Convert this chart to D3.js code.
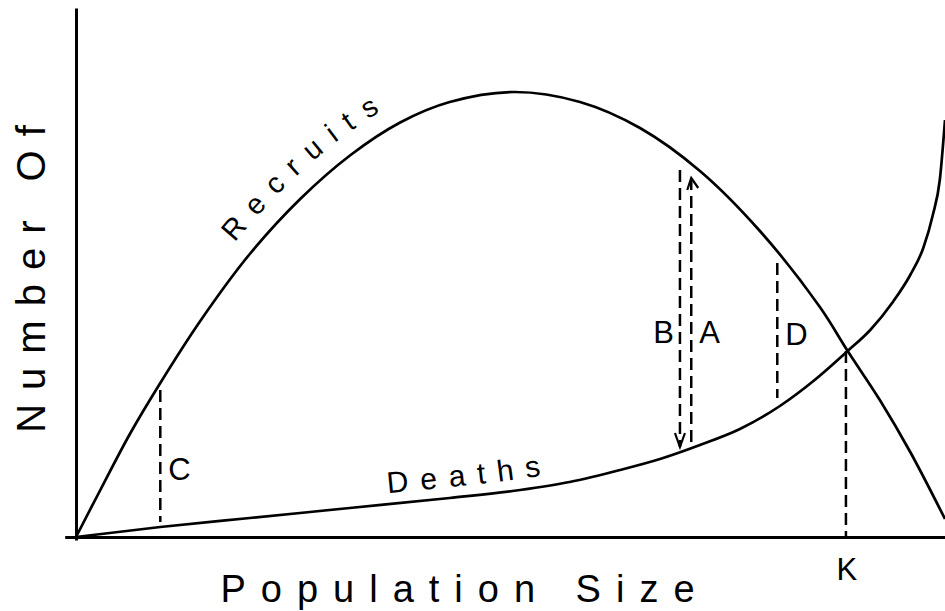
<!DOCTYPE html>
<html>
<head>
<meta charset="utf-8">
<script src="https://cdn.jsdelivr.net/npm/d3@7"></script>
<style>
  html, body { margin: 0; padding: 0; background: #fff; }
  svg { display: block; font-family: "Liberation Sans", Arial, Helvetica, sans-serif; }
</style>
</head>
<body>
<script>
// population size (0-100) vs number of individuals (0-100)
const recruitsX = [0, 2.8, 6.2, 9.7, 14.3, 20.0, 25.8, 31.6, 37.3, 43.0, 50.5, 58.0, 64.9, 71.8, 78.7, 85.6, 88.8, 92.5, 96.0, 100];
const recruitsY = [0, 9.4, 20.6, 30.8, 43.2, 56.6, 67.6, 76.4, 82.9, 87.0, 89.0, 87.0, 81.8, 73.2, 61.2, 46.0, 37.2, 27.4, 17.0, 3.6];

const deathsX = [0, 9.7, 20.0, 31.5, 43.0, 51.1, 56.8, 62.6, 67.2, 71.8, 76.4, 81.0, 85.0, 88.8, 91.4, 94.0, 96.0, 97.5, 98.6, 99.4, 100];
const deathsY = [0, 2.0, 3.8, 5.8, 7.8, 9.4, 11.0, 13.4, 15.6, 18.4, 21.6, 26.2, 31.4, 37.2, 41.4, 47.0, 52.4, 57.8, 64.4, 71.4, 83.4];

// dashed guide lines
const markerLabels = ["C", "B", "A", "D", "K"];
const markerX      = [9.7, 69.5, 70.8, 80.7, 88.6];
const markerTop    = [29.4, 73.4, 71.8, 54.8, 37.2];
const markerBottom = [3.0, 18.0, 18.0, 27.8, 0];
const markerArrow  = [null, "down", "up", null, null];
const markerLabelY = [11.4, 38.8, 38.8, 38.4, -8.6];

const xAxisDomain = [-1.3, 100];
const yAxisDomain = [-0.6, 105.8];

const curveLabels = ["Recruits", "Deaths"];
const curveLabelStart = [19.9, 36.0];

const width = 945, height = 611;

const x = d3.scaleLinear().domain([0, 100]).range([76, 945]);
const y = d3.scaleLinear().domain([0, 100]).range([537, 37]);

const svg = d3.select("body").append("svg")
  .attr("width", width).attr("height", height)
  .attr("viewBox", `0 0 ${width} ${height}`);

// axes: bare lines, no ticks
const xa = x.copy().domain(xAxisDomain).range(xAxisDomain.map(x));
const ya = y.copy().domain(yAxisDomain).range(yAxisDomain.map(y));

svg.append("g")
  .attr("transform", `translate(0,${y(0)})`)
  .call(d3.axisBottom(xa).tickValues([]).tickSizeOuter(0))
  .call(g => g.select(".domain").attr("stroke", "#000").attr("stroke-width", 3));

svg.append("g")
  .attr("transform", `translate(${x(0)},0)`)
  .call(d3.axisLeft(ya).tickValues([]).tickSizeOuter(0))
  .call(g => g.select(".domain").attr("stroke", "#000").attr("stroke-width", 3));

const series = [
  { id: "recruits-path", pts: d3.zip(recruitsX, recruitsY), curve: d3.curveCatmullRom.alpha(0.5) },
  { id: "deaths-path", pts: d3.zip(deathsX, deathsY), curve: d3.curveMonotoneX }
];

const paths = svg.selectAll("path.curve")
  .data(series)
  .join("path")
  .attr("class", "curve")
  .attr("id", d => d.id)
  .attr("d", d => d3.line().x(p => x(p[0])).y(p => y(p[1])).curve(d.curve)(d.pts))
  .attr("fill", "none")
  .attr("stroke", "#000")
  .attr("stroke-width", 2.7);

// dashed guides
markerLabels.forEach((lab, i) => {
  const mx = x(markerX[i]);
  svg.append("line")
    .attr("x1", mx).attr("x2", mx)
    .attr("y1", y(markerTop[i])).attr("y2", y(markerBottom[i]))
    .attr("stroke", "#000")
    .attr("stroke-width", 2.5)
    .attr("stroke-dasharray", "12,6");

  if (markerArrow[i] === "down") {
    const ty = y(markerBottom[i]);
    svg.append("path")
      .attr("d", `M${mx - 5},${ty - 14}L${mx},${ty}L${mx + 5},${ty - 14}`)
      .attr("fill", "none").attr("stroke", "#000").attr("stroke-width", 2.2);
  } else if (markerArrow[i] === "up") {
    const ty = y(markerTop[i]);
    svg.append("path")
      .attr("d", `M${mx - 4},${ty + 12}L${mx},${ty}L${mx + 7},${ty + 10}`)
      .attr("fill", "none").attr("stroke", "#000").attr("stroke-width", 2.2);
  }

  const anchor = lab === "B" ? "end" : (lab === "K" ? "middle" : "start");
  const dx = lab === "B" ? -6 : (lab === "K" ? 1 : 8);
  svg.append("text")
    .attr("x", mx + dx)
    .attr("y", y(markerLabelY[i]))
    .attr("text-anchor", anchor)
    .style("font-size", "31px")
    .text(lab);
});

// curve labels sit on the curves
paths.each(function(d, i) {
  const node = this;
  const target = x(curveLabelStart[i]);
  const total = node.getTotalLength();
  let lo = 0, hi = total;
  for (let k = 0; k < 40; k++) {
    const mid = (lo + hi) / 2;
    if (node.getPointAtLength(mid).x < target) lo = mid; else hi = mid;
  }
  svg.append("text")
    .style("font-size", i === 0 ? "29px" : "30px")
    .style("letter-spacing", "12px")
    .append("textPath")
    .attr("href", "#" + d.id)
    .attr("startOffset", lo)
    .append("tspan")
    .attr("dy", i === 0 ? -19 : -11)
    .text(curveLabels[i]);
});

// axis titles
svg.append("text")
  .attr("transform", `translate(45,272) rotate(-90)`)
  .attr("text-anchor", "middle")
  .style("font-size", "40px")
  .style("letter-spacing", "14px")
  .text("Number Of");

svg.append("text")
  .attr("x", 465)
  .attr("y", 602)
  .attr("text-anchor", "middle")
  .style("font-size", "38px")
  .style("letter-spacing", "15px")
  .text("Population Size");
</script>
</body>
</html>
